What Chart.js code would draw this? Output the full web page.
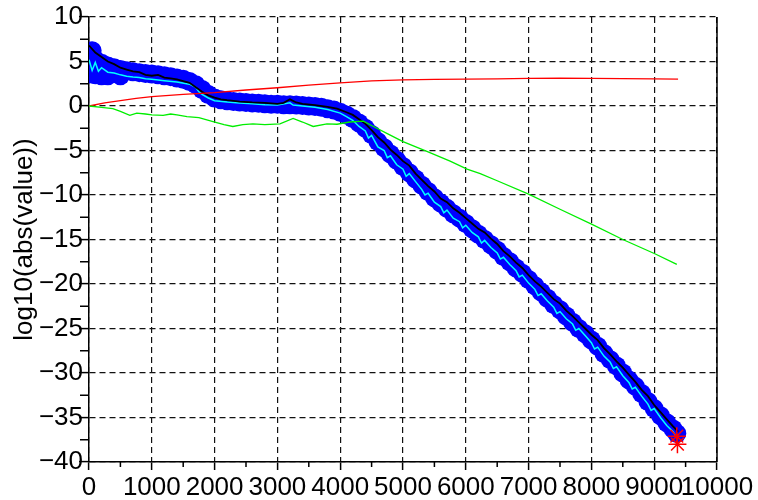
<!DOCTYPE html>
<html><head><meta charset="utf-8">
<script src="https://cdn.jsdelivr.net/npm/chart.js@4.4.0/dist/chart.umd.min.js"></script>
<style>html,body{margin:0;padding:0;background:#fff}canvas{display:block}</style>
</head><body>
<canvas id="c" width="758" height="500"></canvas>
<script>
// ---------- data ----------
const xTicks = [0,1000,2000,3000,4000,5000,6000,7000,8000,9000,10000];
const yTicks = [10,5,0,-5,-10,-15,-20,-25,-30,-35,-40];
const yTitle = 'log10(abs(value))';

const blueX = [0,0,50,50,100,100,200,200,300,300,400,500,500,600,700,800,900,1000,1100,1200,1300,1400,1500,1600,1700,1800,1900,2000,2100,2200,2300,2400,2500,2600,2700,2800,2900,3000,3100,3200,3300,3400,3500,3600,3700,3800,3900,4000,4100,4200,4300,4400,4500,4600,4700,4800,4900,5000,5100,5200,5300,5400,5500,5600,5700,5800,5900,6000,6100,6200,6300,6400,6500,6600,6700,6800,6900,7000,7100,7200,7300,7400,7500,7600,7700,7800,7900,8000,8100,8200,8300,8400,8500,8600,8700,8800,8900,9000,9100,9200,9300,9360];
const blueY = [5.6,3.6,6.2,4.6,5.2,3.5,4.8,3.4,4.5,3.4,4.3,4.1,3.4,3.95,3.85,3.75,3.65,3.6,3.5,3.4,3.3,3.15,3.0,2.75,2.4,1.85,1.3,0.9,0.7,0.6,0.5,0.45,0.4,0.35,0.3,0.25,0.2,0.2,0.15,0.15,0.1,0.05,0.0,-0.05,-0.15,-0.3,-0.45,-0.7,-1.0,-1.4,-1.9,-2.5,-3.2,-4.0,-4.7,-5.4,-6.1,-6.8,-7.5,-8.2,-8.9,-9.6,-10.3,-10.9,-11.5,-12.1,-12.6,-13.2,-13.8,-14.4,-15.0,-15.6,-16.2,-16.9,-17.5,-18.2,-18.8,-19.5,-20.2,-20.9,-21.6,-22.3,-22.9,-23.6,-24.3,-25.0,-25.6,-26.3,-27.0,-27.8,-28.5,-29.2,-30.0,-30.8,-31.5,-32.3,-33.2,-34.0,-34.8,-35.6,-36.3,-36.8];

const blackX = [0,100,200,300,400,500,600,700,800,900,1000,1100,1200,1300,1400,1500,1600,1700,1800,1900,2000,2100,2200,2400,2600,2800,3000,3100,3200,3300,3400,3600,3800,3950,4100,4200,4300,4400,4500,4600,4700,4800,4900,5000,5100,5200,5300,5400,5500,5600,5700,5800,5900,6000,6100,6200,6300,6400,6500,6600,6700,6800,6900,7000,7100,7200,7300,7400,7500,7600,7700,7800,7900,8000,8100,8200,8300,8400,8500,8600,8700,8800,8900,9000,9100,9200,9300,9380];
const blackY = [6.8,6.0,5.5,5.0,4.7,4.3,4.1,3.9,3.8,3.5,3.4,3.5,3.2,3.1,3.0,2.8,2.6,2.1,1.6,1.2,0.95,0.75,0.65,0.5,0.4,0.35,0.25,0.35,0.75,0.4,0.25,0.1,-0.1,-0.3,-0.7,-1.0,-1.5,-2.0,-2.7,-3.5,-4.1,-4.9,-5.5,-6.2,-6.7,-7.6,-8.3,-9.0,-9.6,-10.4,-10.8,-11.5,-12.0,-12.6,-13.2,-13.8,-14.2,-14.9,-15.5,-16.3,-16.9,-17.6,-18.2,-19.0,-19.7,-20.3,-21.0,-21.7,-22.2,-23.0,-23.6,-24.3,-25.0,-25.7,-26.3,-27.2,-27.9,-28.7,-29.4,-30.2,-31.0,-31.9,-32.6,-33.6,-34.4,-35.2,-36.0,-36.6];

const cyanX = [0,50,100,150,200,300,400,500,600,700,800,900,1000,1200,1400,1600,1700,1750,1800,1900,2000,2200,2400,2600,2800,3000,3200,3250,3400,3600,3800,4000,4100,4200,4300,4400,4450,4500,4600,4700,4750,4800,4900,5000,5050,5100,5200,5300,5350,5400,5500,5600,5650,5700,5800,5900,5950,6000,6100,6200,6250,6300,6400,6500,6550,6600,6700,6800,6850,6900,7000,7100,7150,7200,7300,7400,7450,7500,7600,7700,7750,7800,7900,8000,8050,8100,8200,8300,8350,8400,8500,8600,8650,8700,8800,8900,8950,9000,9100,9200,9300,9360];
const cyanY = [5.2,4.0,4.9,3.9,4.3,3.8,3.7,3.5,3.35,3.25,3.2,3.05,3.0,2.85,2.7,2.45,2.1,1.6,1.3,0.9,0.6,0.45,0.35,0.25,0.15,0.1,0.35,0.1,0.0,-0.15,-0.4,-0.8,-1.2,-1.6,-2.3,-2.8,-3.6,-3.3,-4.6,-5.0,-5.8,-5.6,-6.6,-7.1,-7.9,-7.6,-8.5,-9.4,-10.0,-9.8,-10.8,-11.3,-12.0,-11.7,-12.6,-13.0,-13.7,-13.4,-14.2,-14.7,-15.4,-15.1,-15.9,-16.5,-17.2,-17.0,-17.8,-18.5,-19.2,-19.0,-19.9,-20.6,-21.3,-21.1,-21.9,-22.6,-23.3,-23.1,-23.9,-24.5,-25.2,-25.0,-25.8,-26.6,-27.3,-27.1,-28.1,-28.8,-29.5,-29.3,-30.3,-31.1,-31.8,-31.6,-32.6,-33.5,-34.2,-34.0,-35.0,-35.9,-36.6,-37.2];

const redX = [0,250,500,750,1000,1500,2000,2500,3000,3500,4000,4500,5000,5500,6000,6500,7000,7500,8000,8500,9000,9380];
const redY = [0,0.35,0.6,0.85,1.05,1.3,1.5,1.8,2.05,2.35,2.6,2.82,2.93,3.0,3.02,3.05,3.1,3.12,3.1,3.08,3.05,3.02];

const greenX = [0,200,380,500,650,760,900,1000,1180,1300,1400,1560,1750,1975,2150,2290,2450,2610,2800,3040,3250,3400,3570,3790,3950,4150,4370,4530,4750,5000,5380,5750,6020,6230,6500,7000,7500,8010,8500,9010,9360];
const greenY = [0,-0.15,-0.3,-0.6,-1.05,-0.8,-0.9,-1.0,-1.05,-0.9,-1.0,-1.2,-1.3,-1.75,-2.1,-2.3,-2.1,-2.0,-2.1,-2.0,-1.4,-1.8,-2.3,-2.0,-2.05,-1.8,-1.7,-2.3,-3.1,-4.0,-5.1,-6.2,-7.1,-7.6,-8.4,-9.9,-11.6,-13.3,-15.0,-16.6,-17.8];

const starX = [9360,9370];
const starY = [-37.1,-38.0];

// ---------- chart ----------
const pts = (xs, ys) => xs.map((x, i) => ({x: x, y: ys[i]}));
Chart.defaults.font.family = "'Liberation Sans', Arial, Helvetica, sans-serif";
Chart.defaults.color = '#000';

const decor = {
  id: 'decor',
  afterDraw(chart) {
    const ctx = chart.ctx, a = chart.chartArea;
    const xs = chart.scales.x, ys = chart.scales.y;
    ctx.save();
    ctx.strokeStyle = '#000';
    ctx.lineWidth = 1.5;
    ctx.beginPath();
    for (let i = 0; i < xTicks.length - 1; i++) {
      const px = xs.getPixelForValue((xTicks[i] + xTicks[i + 1]) / 2);
      ctx.moveTo(px, a.bottom); ctx.lineTo(px, a.bottom + 5);
    }
    for (let i = 0; i < yTicks.length - 1; i++) {
      const py = ys.getPixelForValue((yTicks[i] + yTicks[i + 1]) / 2);
      ctx.moveTo(a.left, py); ctx.lineTo(a.left - 9, py);
    }
    ctx.moveTo(a.right, a.top); ctx.lineTo(a.right, a.bottom);
    ctx.stroke();
    ctx.restore();
  }
};

new Chart(document.getElementById('c'), {
  type: 'scatter',
  data: {
    datasets: [
      {data: pts(starX, starY), pointStyle: 'star', pointRadius: 9, borderColor: '#ff0000', borderWidth: 1.5, backgroundColor: '#ff0000', order: 0},
      {data: pts(greenX, greenY), showLine: true, borderColor: '#00ee00', borderWidth: 1.3, pointRadius: 0, order: 1},
      {data: pts(redX, redY), showLine: true, borderColor: '#ff0000', borderWidth: 1.3, pointRadius: 0, order: 2},
      {data: pts(blackX, blackY), showLine: true, borderColor: '#000000', borderWidth: 1.8, pointRadius: 0, order: 3},
      {data: pts(cyanX, cyanY), showLine: true, borderColor: '#00ffff', borderWidth: 1.5, pointRadius: 0, order: 4},
      {data: pts(blueX, blueY), showLine: false, pointStyle: 'circle', pointRadius: 9.5, borderWidth: 0, backgroundColor: '#0000ff', borderColor: '#0000ff', order: 5}
    ]
  },
  options: {
    responsive: false,
    animation: false,
    devicePixelRatio: 1,
    layout: {padding: {left: 0, right: 41, top: 17, bottom: 0}},
    plugins: {legend: {display: false}, tooltip: {enabled: false}},
    scales: {
      x: {
        type: 'linear', min: 0, max: 10000,
        afterFit: s => { s.height = 38; },
        afterBuildTicks: s => { s.ticks = xTicks.map(v => ({value: v})); },
        ticks: {autoSkip: false, maxRotation: 0, minRotation: 0, padding: 2, font: {size: 26}, color: '#000',
          callback: v => String(v)},
        grid: {color: '#111', lineWidth: 1.2, tickLength: 8, tickColor: '#000', tickWidth: 1.5},
        border: {color: '#000', width: 1.5, dash: [6, 4]}
      },
      y: {
        type: 'linear', min: -40, max: 10,
        afterFit: s => { s.width = 89; },
        afterBuildTicks: s => { s.ticks = yTicks.map(v => ({value: v})); },
        ticks: {autoSkip: false, padding: -4, font: {size: 26}, color: '#000',
          callback: v => String(v).replace('-', '\u2212')},
        grid: {color: '#111', lineWidth: 1.2, tickLength: 10, tickColor: '#000', tickWidth: 1.5},
        border: {color: '#000', width: 1.5, dash: [6, 4]},
        title: {display: true, text: yTitle, font: {size: 26}, color: '#000', padding: {top: 9, bottom: 0}}
      }
    }
  },
  plugins: [decor]
});
</script>
</body></html>
